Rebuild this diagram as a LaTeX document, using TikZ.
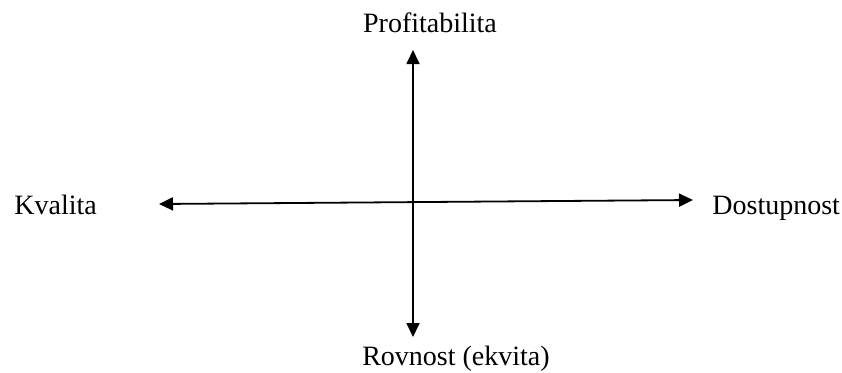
\documentclass[tikz,border=0pt]{standalone}
\usepackage{fontspec}
\setmainfont{Liberation Serif}
\usetikzlibrary{arrows.meta}

\tikzset{
  axis/.style={line width=0.9pt, {Triangle[length=7pt,width=6.5pt]}-{Triangle[length=7pt,width=6.5pt]}},
  lbl/.style={font=\fontsize{14}{16}\selectfont, inner sep=0pt}
}

\begin{document}
\begin{tikzpicture}[x=0.5pt, y=-0.5pt]
			\useasboundingbox (0,0) rectangle (842,372);

			% Arrow ends
			\coordinate (west)  at (159, 204);
			\coordinate (east)  at (693, 200);
			\coordinate (north) at (413, 50);
			\coordinate (south) at (413, 337);

			% Axes
			\draw[axis] (west) -- (east);
			\draw[axis] (north) -- (south);

			% Labels
			\node[lbl, anchor=base west] (kvalita) at (14, 214) {Kvalita};
			\node[lbl, anchor=base west] (dostupnost) at (712, 214) {Dostupnost};
			\node[lbl, anchor=base] (profit) at (430, 32) {Profitabilita};
			\node[lbl, anchor=base] (rovnost) at (456, 365) {Rovnost (ekvita)};

		\end{tikzpicture}
\end{document}
